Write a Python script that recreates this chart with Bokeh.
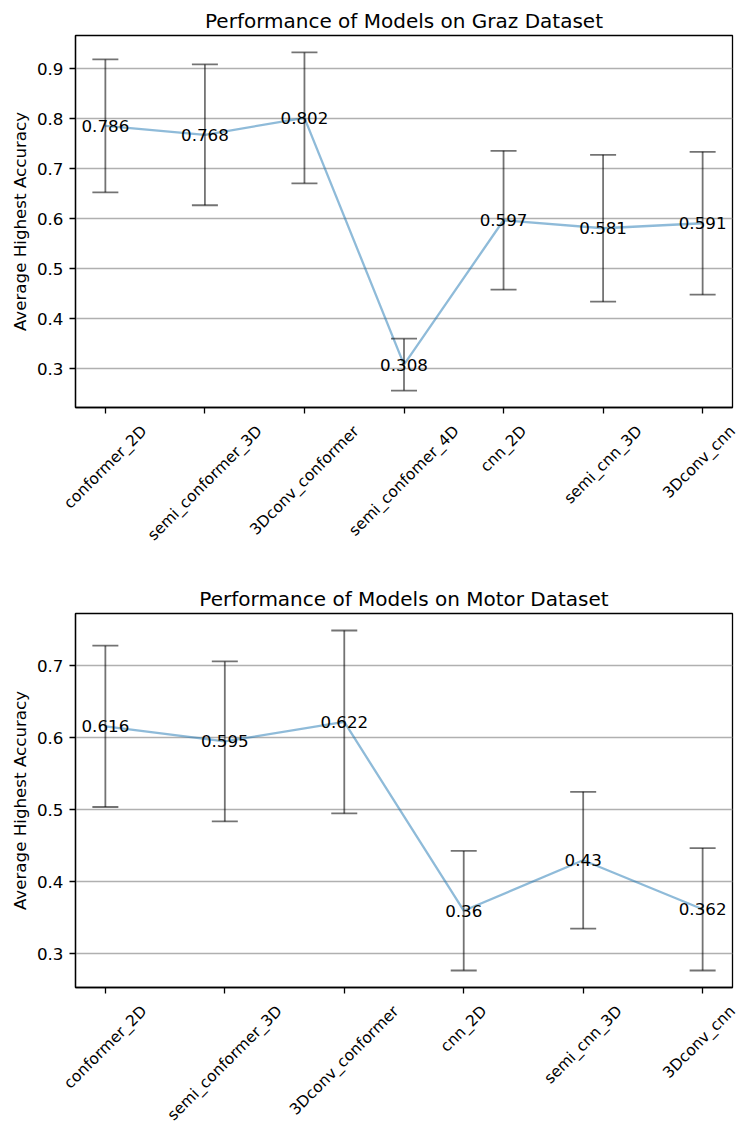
import math
from bokeh.plotting import figure
from bokeh.models import ColumnDataSource, Whisker, TeeHead, FixedTicker, Range1d
from bokeh.layouts import column
from bokeh.embed import file_html
from bokeh.resources import INLINE
from bokeh.core.properties import value

# ---------------- data ----------------
graz_models = ["conformer_2D", "semi_conformer_3D", "3Dconv_conformer", "semi_confomer_4D",
               "cnn_2D", "semi_cnn_3D", "3Dconv_cnn"]
graz_mean = [0.786, 0.768, 0.802, 0.308, 0.597, 0.581, 0.591]
graz_err = [0.133, 0.141, 0.131, 0.052, 0.139, 0.147, 0.143]
graz_yticks = [0.3, 0.4, 0.5, 0.6, 0.7, 0.8, 0.9]

motor_models = ["conformer_2D", "semi_conformer_3D", "3Dconv_conformer",
                "cnn_2D", "semi_cnn_3D", "3Dconv_cnn"]
motor_mean = [0.616, 0.595, 0.622, 0.36, 0.43, 0.362]
motor_err = [0.112, 0.111, 0.127, 0.083, 0.095, 0.085]
motor_yticks = [0.3, 0.4, 0.5, 0.6, 0.7]

FONT = "DejaVu Sans"
TICK_PX = 16.7
XLAB_PX = 15.5
W = 740
BL, BR = 75, 8          # left / right borders of the plot frames
AXB = 8                 # space kept under each frame for the tick marks
# DejaVu Sans advance widths (units per 2048 em) for label-offset estimation
_W = {"a": 1255, "c": 1126, "d": 1300, "e": 1260, "f": 721, "i": 569, "m": 1995,
      "n": 1298, "o": 1253, "r": 842, "s": 1067, "t": 803, "v": 1212, "_": 1024,
      "2": 1303, "3": 1303, "4": 1303, "D": 1577}


def text_w(s, size):
    return sum(_W.get(ch, 1200) for ch in s) / 2048.0 * size


def make_plot(title, models, means, errs, yticks, top, frame_h, strip_h):
    n = len(models)
    xs = list(range(n))
    lo = min(m - e for m, e in zip(means, errs))
    hi = max(m + e for m, e in zip(means, errs))
    pad = 0.05 * (hi - lo)
    x0, x1 = -0.05 * (n - 1), (n - 1) * 1.05
    p = figure(width=W, height=top + frame_h + AXB, output_backend="svg", toolbar_location=None,
               x_range=Range1d(x0, x1), y_range=Range1d(lo - pad, hi + pad),
               min_border_left=BL, min_border_right=BR,
               min_border_top=top, min_border_bottom=AXB)
    p.frame_align = False
    p.title.text = title
    p.title.align = "center"
    p.title.text_font = FONT
    p.title.text_font_size = "20px"
    p.title.text_font_style = "normal"
    p.title.text_color = "black"
    p.title.standoff = 5

    p.outline_line_color = "black"
    p.outline_line_width = 1.3
    p.xgrid.grid_line_color = None
    p.ygrid.grid_line_color = "#b0b0b0"
    p.ygrid.grid_line_width = 1.3

    for ax in (p.xaxis[0], p.yaxis[0]):
        ax.axis_line_color = "black"
        ax.axis_line_width = 1.3
        ax.major_tick_line_color = "black"
        ax.major_tick_line_width = 1.3
        ax.major_tick_out = 6
        ax.major_tick_in = 0
        ax.minor_tick_line_color = None
        ax.major_label_text_font = FONT
        ax.major_label_text_color = "black"
        ax.major_label_standoff = 6

    p.yaxis.major_label_text_font_size = f"{TICK_PX}px"
    p.yaxis.ticker = FixedTicker(ticks=yticks)
    p.yaxis.axis_label = "Average Highest Accuracy"
    p.yaxis.axis_label_text_font = FONT
    p.yaxis.axis_label_text_font_size = f"{TICK_PX}px"
    p.yaxis.axis_label_text_font_style = "normal"
    p.yaxis.axis_label_text_color = "black"
    p.yaxis.axis_label_standoff = 4

    p.xaxis.ticker = FixedTicker(ticks=xs)
    p.xaxis.major_label_overrides = {i: "" for i in xs}
    p.xaxis.major_label_text_font_size = "1px"
    p.xaxis.major_label_standoff = 0

    src = ColumnDataSource(dict(
        x=xs, y=means,
        upper=[m + e for m, e in zip(means, errs)],
        lower=[m - e for m, e in zip(means, errs)],
        txt=[f"{m:g}" for m in means],
    ))

    whisk = Whisker(source=src, base="x", upper="upper", lower="lower", dimension="height",
                    line_color="black", line_alpha=0.55, line_width=1.8, level="glyph",
                    upper_head=TeeHead(size=26, line_color="black", line_alpha=0.55, line_width=1.8),
                    lower_head=TeeHead(size=26, line_color="black", line_alpha=0.55, line_width=1.8))
    p.add_layout(whisk)

    p.line("x", "y", source=src, line_color="#1f77b4", line_alpha=0.5, line_width=2.3)
    p.text("x", "y", text="txt", source=src, text_align="center", text_baseline="alphabetic",
           text_font=value(FONT), text_font_size=f"{TICK_PX}px", text_color="black")

    # strip below the plot holding the rotated category labels, centred under ticks
    ppu = (W - BL - BR) / (x1 - x0)
    sx0 = x0 - BL / ppu
    s = figure(width=W, height=strip_h, output_backend="svg", toolbar_location=None,
               x_range=Range1d(sx0, x1 + BR / ppu),
               y_range=Range1d(-(AXB + strip_h), -AXB),
               x_axis_location=None, y_axis_location=None,
               min_border_left=0, min_border_right=0, min_border_top=0, min_border_bottom=0)
    s.frame_align = False
    s.outline_line_color = None
    s.xgrid.grid_line_color = None
    s.ygrid.grid_line_color = None
    lx, ly = [], []
    for i, m in enumerate(models):
        w = text_w(m, XLAB_PX)
        half = 0.3536 * (w + 1.25 * XLAB_PX)
        # keep the rotated label's box inside the canvas
        lx.append(min(i, sx0 + (W - half - 1) / ppu))
        ly.append(-(21 + 0.3536 * w))
    lsrc = ColumnDataSource(dict(x=lx, y=ly, name=models))
    s.text("x", "y", text="name", source=lsrc, angle=math.pi / 4, text_align="center",
           text_baseline="middle", text_font=value(FONT), text_font_size=f"{XLAB_PX}px",
           text_color="black")
    return p, s


p1, s1 = make_plot("Performance of Models on Graz Dataset", graz_models, graz_mean, graz_err,
                   graz_yticks, 35, 372, 570 - (35 + 372 + AXB))
p2, s2 = make_plot("Performance of Models on Motor Dataset", motor_models, motor_mean, motor_err,
                   motor_yticks, 43, 374, 1126 - 570 - (43 + 374 + AXB))

layout = column(p1, s1, p2, s2, spacing=0)
open("out.html", "w").write(file_html(layout, INLINE))
